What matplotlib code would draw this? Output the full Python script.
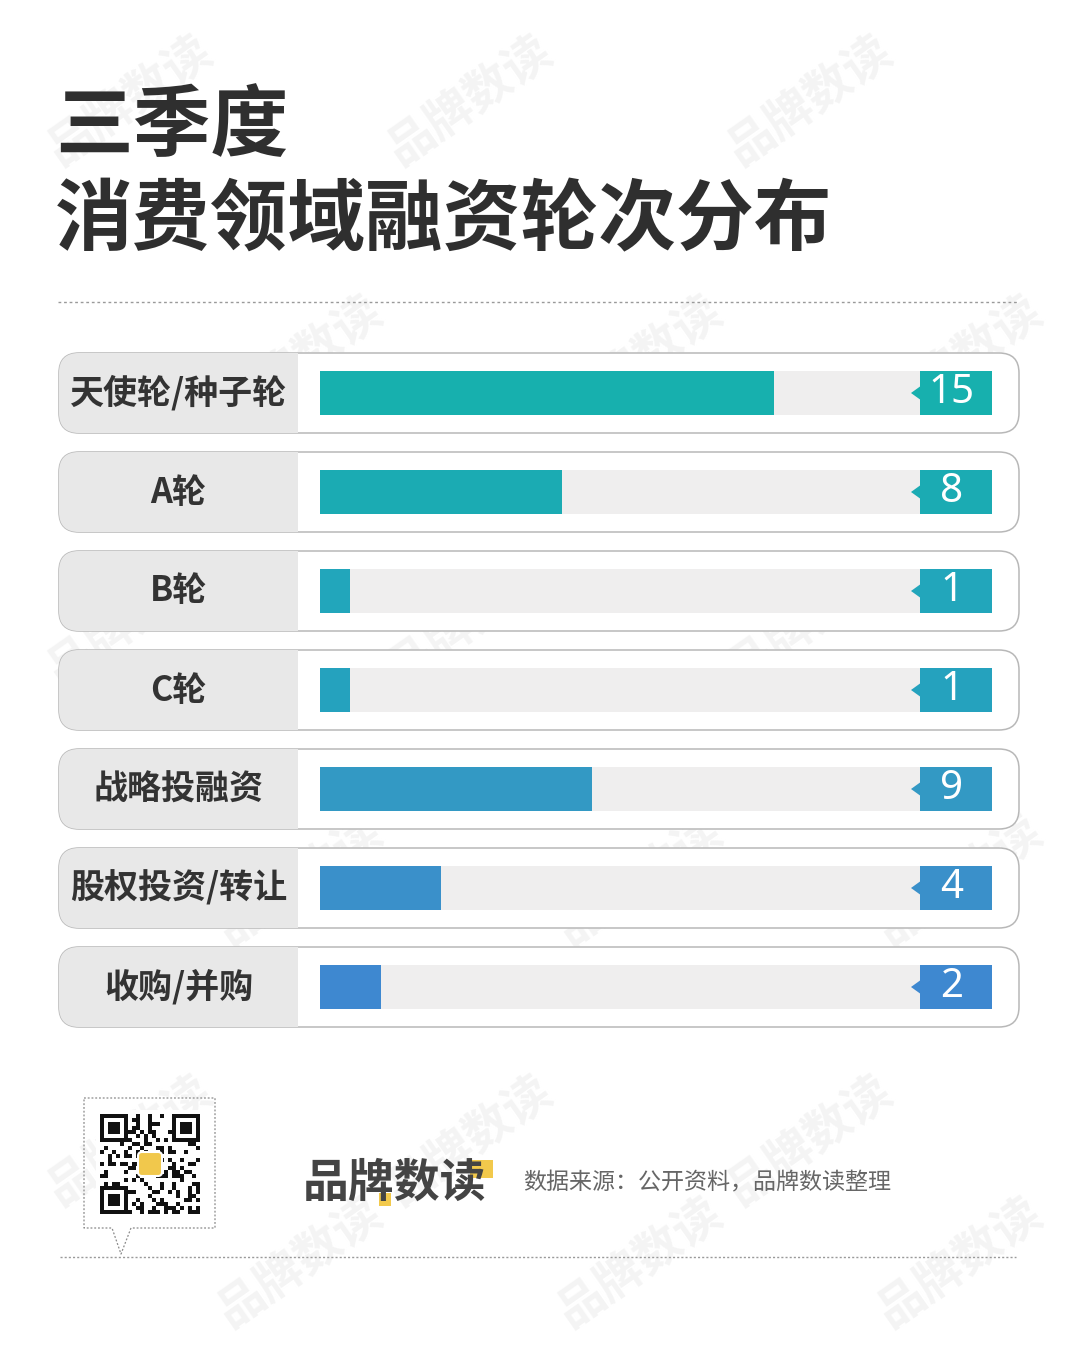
import matplotlib
matplotlib.use('Agg')
from matplotlib import pyplot as plt
from matplotlib.patches import FancyBboxPatch, Rectangle, Polygon

plt.rcParams['font.family'] = ['Noto Sans CJK SC', 'DejaVu Sans']

# data
title_lines = ['三季度', '消费领域融资轮次分布']
rounds = ['天使轮/种子轮', 'A轮', 'B轮', 'C轮', '战略投融资', '股权投资/转让', '收购/并购']
counts = [15, 8, 1, 1, 9, 4, 2]
bar_colors = ['#17b0ae', '#1babb3', '#22a6bb', '#25a2be', '#3399c4', '#3a90ca', '#3e88d0']
brand = '品牌数读'
source = '数据来源：公开资料，品牌数读整理'
watermark = '品牌数读'

W, H = 1080, 1347
fig = plt.figure(figsize=(W / 100, H / 100), dpi=100)
fig.patch.set_facecolor('white')

# background / layout axes in pixel units
bg = fig.add_axes([0, 0, 1, 1])
bg.set_xlim(0, W)
bg.set_ylim(H, 0)
bg.axis('off')

# faint watermarks, kept inside the canvas
wm_rows = [100, 360, 620, 880, 1140, 1262]
for k, wy in enumerate(wm_rows):
    cols = [130, 470, 810] if k % 2 == 0 else [300, 640, 960]
    for wx in cols:
        bg.text(wx, wy, watermark, fontsize=34, weight='bold', color='#f4f4f4',
                rotation=35, ha='center', va='center', zorder=0)

# title
bg.text(55, 127, title_lines[0], fontsize=56, weight='heavy', color='#2f2f2f',
        va='center', ha='left', zorder=3)
bg.text(55, 222, title_lines[1], fontsize=56, weight='heavy', color='#2f2f2f',
        va='center', ha='left', zorder=3)
bg.plot([58, 1018], [302, 302], color='#9a9a9a', lw=1, ls=(0, (2, 2)), zorder=3)

# row frames
n = len(rounds)
row_top0, row_h, pitch = 353, 80, 99
box_l, box_r, lab_r = 59, 1019, 298
for i, lab in enumerate(rounds):
    top = row_top0 + i * pitch
    bg.add_patch(FancyBboxPatch((box_l, top), box_r - box_l, row_h,
                                boxstyle='round,pad=0,rounding_size=20',
                                fc='white', ec='#b8b8b8', lw=1.1, zorder=2))
    bg.add_patch(FancyBboxPatch((box_l, top), lab_r - box_l, row_h,
                                boxstyle='round,pad=0,rounding_size=20',
                                fc='#e8e8e8', ec='none', zorder=2.1))
    bg.add_patch(Rectangle((lab_r - 25, top), 25, row_h, fc='#e8e8e8',
                           ec='none', zorder=2.1))
    bg.text((box_l + lab_r) / 2, top + row_h / 2, lab, fontsize=24.5,
            weight='bold', color='#333333', ha='center', va='center', zorder=3)

# bar axes
trk_l, trk_r = 320, 992
ax_top = row_top0 - (pitch - row_h) / 2
ax = fig.add_axes([trk_l / W, 1 - (ax_top + pitch * n) / H,
                   (trk_r - trk_l) / W, pitch * n / H])
ax.axis('off')
ax.patch.set_alpha(0)
xmax = 22.2
ax.set_xlim(0, xmax)
ax.set_ylim(n - 0.5, -0.5)
ypos = list(range(n))
bh = 44 / pitch
ax.barh(ypos, [xmax] * n, height=bh, color='#efeeee', zorder=1)
ax.barh(ypos, counts, height=bh, color=bar_colors, zorder=2)

# value tags
tf = ax.get_yaxis_transform()
tag_l = (920 - trk_l) / (trk_r - trk_l)
tip = (911 - trk_l) / (trk_r - trk_l)
txt_x = (952 - trk_l) / (trk_r - trk_l)
for i, v in enumerate(counts):
    ax.add_patch(Rectangle((tag_l, i - bh / 2), 1 - tag_l, bh, transform=tf,
                           fc=bar_colors[i], ec='none', zorder=3))
    ax.add_patch(Polygon([(tip, i), (tag_l + 0.002, i - 0.075),
                          (tag_l + 0.002, i + 0.075)], closed=True,
                         transform=tf, fc=bar_colors[i], ec='none', zorder=3))
    ax.text(txt_x, i, str(v), transform=tf, ha='center', va='center',
            color='white', fontsize=29, fontfamily=['Noto Sans', 'DejaVu Sans'],
            weight='light', zorder=4)

# footer: QR card
bg.plot([84, 215, 215, 131, 121, 112, 84, 84], [1098, 1098, 1228, 1228, 1254, 1228, 1228, 1098],
        color='#8a8a8a', lw=0.9, ls=(0, (1.5, 1.5)), zorder=3)
bg.add_patch(Rectangle((96, 1110), 108, 108, fc='white', ec='none', zorder=3))
cell = 100 / 25
for r in range(25):
    for c in range(25):
        finder = (r < 7 and c < 7) or (r < 7 and c > 17) or (r > 17 and c < 7)
        if finder:
            rr = r if r < 7 else r - 18
            cc = c if c < 7 else c - 18
            on = rr in (0, 6) or cc in (0, 6) or (2 <= rr <= 4 and 2 <= cc <= 4)
        else:
            on = ((r * 7 + c * 11) ^ (r * c)) % 3 == 0
        if on:
            bg.add_patch(Rectangle((100 + c * cell, 1114 + r * cell), cell, cell,
                                   fc='#111111', ec='none', zorder=3.1))
bg.add_patch(FancyBboxPatch((138, 1152), 24, 24, boxstyle='round,pad=0,rounding_size=4',
                            fc='#f1c84c', ec='white', lw=1.5, zorder=3.2))

# footer: brand
bg.add_patch(Rectangle((470, 1160), 23, 18, fc='#f2c94c', ec='none', zorder=2.5))
bg.add_patch(Rectangle((379, 1193), 12, 13, fc='#f2c94c', ec='none', zorder=2.5))
bg.text(303, 1184, brand, fontsize=33, weight='bold', color='#444444',
        ha='left', va='center', zorder=3)
bg.text(523, 1183, source, fontsize=16.6, color='#666666', ha='left', va='center',
        zorder=3)
bg.plot([60, 1016], [1257, 1257], color='#9a9a9a', lw=1, ls=(0, (1.5, 1.5)), zorder=3)

plt.savefig('out.png', dpi=100, facecolor='white')
plt.close()
